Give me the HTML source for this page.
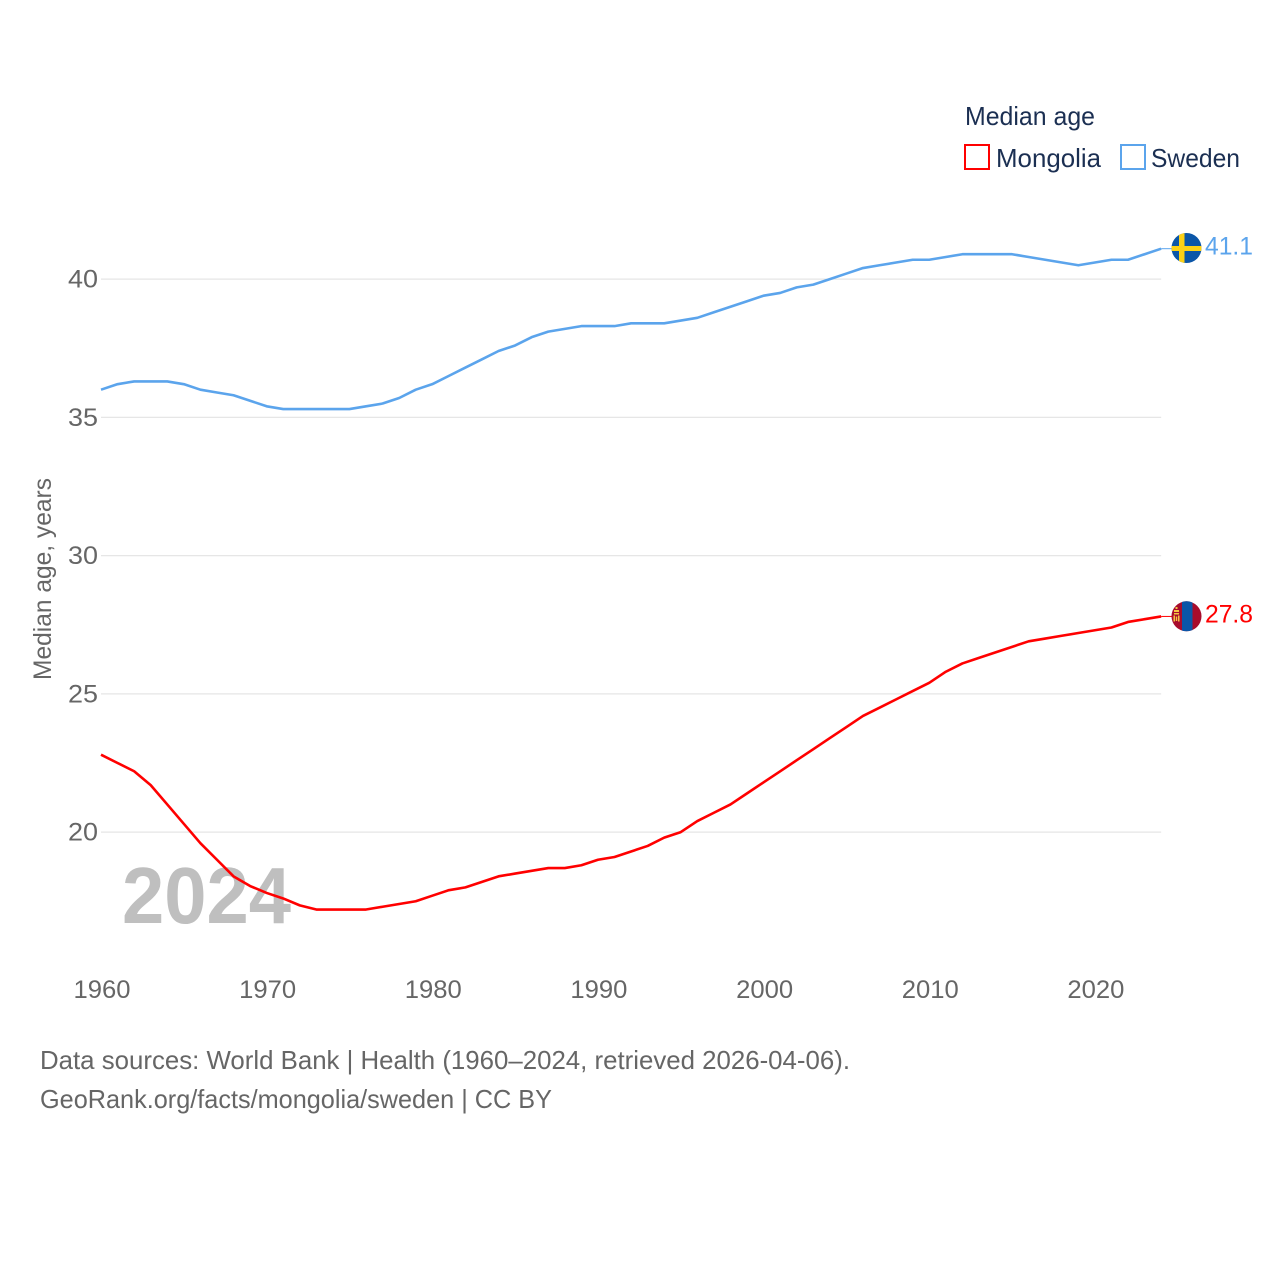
<!DOCTYPE html>
<html lang="en">
<head>
<meta charset="utf-8">
<title>Median age: Mongolia and Sweden</title>
<style>
html,body{margin:0;padding:0;background:#fff;}
svg{display:block;}
text{font-family:"Liberation Sans",sans-serif;}
</style>
</head>
<body>
<svg id="chart" width="1280" height="1280" viewBox="0 0 1280 1280" xmlns="http://www.w3.org/2000/svg">
  <defs>
    <clipPath id="clip-se"><circle cx="1186.5" cy="248" r="15"/></clipPath>
    <clipPath id="clip-mn"><circle cx="1186.5" cy="616.3" r="15"/></clipPath>
  </defs>
  <rect x="0" y="0" width="1280" height="1280" fill="#ffffff"/>

  <text x="965" y="125" font-size="26" fill="#1b2f52" textLength="130" lengthAdjust="spacingAndGlyphs">Median age</text>
  <rect x="965" y="145" width="24" height="24" fill="none" stroke="#ff0000" stroke-width="2"/>
  <text x="996" y="167" font-size="26" fill="#1b2f52" textLength="105" lengthAdjust="spacingAndGlyphs">Mongolia</text>
  <rect x="1121" y="145" width="24" height="24" fill="none" stroke="#5ba4ec" stroke-width="2"/>
  <text x="1151" y="167" font-size="26" fill="#1b2f52" textLength="89" lengthAdjust="spacingAndGlyphs">Sweden</text>

  <text transform="translate(51,680) rotate(-90)" font-size="25" fill="#666666" textLength="202" lengthAdjust="spacingAndGlyphs">Median age, years</text>

  <g id="grid"></g>
  <g id="yticks"></g>
  <g id="xticks"></g>

  <text x="122" y="923" font-size="80" font-weight="bold" fill="#bfbfbf" textLength="169" lengthAdjust="spacingAndGlyphs">2024</text>

  <g id="series"></g>

  <g clip-path="url(#clip-se)">
    <rect x="1171" y="233" width="31" height="30" fill="#0b56a8"/>
    <rect x="1179" y="233" width="5.5" height="30" fill="#fcd116"/>
    <rect x="1171" y="246" width="31" height="5" fill="#fcd116"/>
  </g>
  <g clip-path="url(#clip-mn)">
    <rect x="1171" y="601" width="31" height="31" fill="#a80c2c"/>
    <rect x="1182" y="601" width="10.5" height="31" fill="#0b56a8"/>
    <rect x="1175.5" y="607" width="2" height="2" fill="#f5c542"/>
    <rect x="1174" y="610" width="5" height="2" fill="#f5c542"/>
    <rect x="1174" y="613" width="5" height="1.5" fill="#f5c542"/>
    <rect x="1173.5" y="615.5" width="1.5" height="6" fill="#f5c542"/>
    <rect x="1178" y="615.5" width="1.5" height="6" fill="#f5c542"/>
    <rect x="1175.8" y="616.5" width="1.4" height="4.5" fill="#f5c542"/>
  </g>

  <text x="1205" y="254.5" font-size="25" fill="#5ba4ec" textLength="48" lengthAdjust="spacingAndGlyphs">41.1</text>
  <text x="1205" y="622.5" font-size="25" fill="#ff0000" textLength="48" lengthAdjust="spacingAndGlyphs">27.8</text>

  <text x="40" y="1069" font-size="26" fill="#666666" textLength="810" lengthAdjust="spacingAndGlyphs">Data sources: World Bank | Health (1960–2024, retrieved 2026-04-06).</text>
  <text x="40" y="1108" font-size="26" fill="#666666" textLength="512" lengthAdjust="spacingAndGlyphs">GeoRank.org/facts/mongolia/sweden | CC BY</text>
</svg>
<script>
const startYear = 1960;
const mongolia = [22.8,22.5,22.2,21.7,21.0,20.3,19.6,19.0,18.4,18.05,17.8,17.6,17.35,17.2,17.2,17.2,17.2,17.3,17.4,17.5,17.7,17.9,18.0,18.2,18.4,18.5,18.6,18.7,18.7,18.8,19.0,19.1,19.3,19.5,19.8,20.0,20.4,20.7,21.0,21.4,21.8,22.2,22.6,23.0,23.4,23.8,24.2,24.5,24.8,25.1,25.4,25.8,26.1,26.3,26.5,26.7,26.9,27.0,27.1,27.2,27.3,27.4,27.6,27.7,27.8];
const sweden = [36.0,36.2,36.3,36.3,36.3,36.2,36.0,35.9,35.8,35.6,35.4,35.3,35.3,35.3,35.3,35.3,35.4,35.5,35.7,36.0,36.2,36.5,36.8,37.1,37.4,37.6,37.9,38.1,38.2,38.3,38.3,38.3,38.4,38.4,38.4,38.5,38.6,38.8,39.0,39.2,39.4,39.5,39.7,39.8,40.0,40.2,40.4,40.5,40.6,40.7,40.7,40.8,40.9,40.9,40.9,40.9,40.8,40.7,40.6,40.5,40.6,40.7,40.7,40.9,41.1];
const yTickValues = [20,25,30,35,40];
const xTickValues = [1960,1970,1980,1990,2000,2010,2020];

const SVGNS = 'http://www.w3.org/2000/svg';
function xScale(year){ return 101 + (year - 1960) * 16.565; }
function yScale(v){ return 832.1 - (v - 20) * 27.65; }

const gridGroup = document.getElementById('grid');
const yTickGroup = document.getElementById('yticks');
const xTickGroup = document.getElementById('xticks');
const seriesGroup = document.getElementById('series');

yTickValues.forEach(function(v){
  const line = document.createElementNS(SVGNS,'line');
  
  
  line.setAttribute('x1', xScale(1960));
  line.setAttribute('x2', xScale(2024));
  line.setAttribute('y1', yScale(v));
  line.setAttribute('y2', yScale(v));
  line.setAttribute('stroke', '#e6e6e6');
  line.setAttribute('stroke-width', '1.3');
  gridGroup.appendChild(line);

  const label = document.createElementNS(SVGNS,'text');
  
  
  label.setAttribute('x', 68);
  label.setAttribute('y', yScale(v) + 8.4);
  label.setAttribute('font-size', '25');
  label.setAttribute('fill', '#666666');
  label.setAttribute('textLength', '30');
  label.setAttribute('lengthAdjust', 'spacingAndGlyphs');
  label.textContent = v;
  yTickGroup.appendChild(label);
});

xTickValues.forEach(function(year){
  const label = document.createElementNS(SVGNS,'text');
  
  
  label.setAttribute('x', xScale(year) - 27.5);
  label.setAttribute('y', 998);
  label.setAttribute('font-size', '25');
  label.setAttribute('fill', '#666666');
  label.setAttribute('textLength', '57');
  label.setAttribute('lengthAdjust', 'spacingAndGlyphs');
  label.textContent = year;
  xTickGroup.appendChild(label);
});

function pathFor(values){
  return values.map(function(v,i){
    return (i === 0 ? 'M' : 'L') + xScale(startYear + i).toFixed(2) + ' ' + yScale(v).toFixed(2);
  }).join(' ');
}

const swedenLine = document.createElementNS(SVGNS,'path');


swedenLine.setAttribute('d', pathFor(sweden));
swedenLine.setAttribute('fill', 'none');
swedenLine.setAttribute('stroke', '#5ba4ec');
swedenLine.setAttribute('stroke-width', '2.6');
swedenLine.setAttribute('stroke-linejoin', 'round');
seriesGroup.appendChild(swedenLine);

const mongoliaLine = document.createElementNS(SVGNS,'path');


mongoliaLine.setAttribute('d', pathFor(mongolia));
mongoliaLine.setAttribute('fill', 'none');
mongoliaLine.setAttribute('stroke', '#ff0000');
mongoliaLine.setAttribute('stroke-width', '2.6');
mongoliaLine.setAttribute('stroke-linejoin', 'round');
seriesGroup.appendChild(mongoliaLine);

const swedenLeader = document.createElementNS(SVGNS,'line');


swedenLeader.setAttribute('x1', xScale(2024));
swedenLeader.setAttribute('x2', 1172);
swedenLeader.setAttribute('y1', yScale(sweden[sweden.length - 1]));
swedenLeader.setAttribute('y2', yScale(sweden[sweden.length - 1]));
swedenLeader.setAttribute('stroke', '#5ba4ec');
swedenLeader.setAttribute('stroke-width', '1');
seriesGroup.appendChild(swedenLeader);

const mongoliaLeader = document.createElementNS(SVGNS,'line');


mongoliaLeader.setAttribute('x1', xScale(2024));
mongoliaLeader.setAttribute('x2', 1172);
mongoliaLeader.setAttribute('y1', yScale(mongolia[mongolia.length - 1]));
mongoliaLeader.setAttribute('y2', yScale(mongolia[mongolia.length - 1]));
mongoliaLeader.setAttribute('stroke', '#ff0000');
mongoliaLeader.setAttribute('stroke-width', '1');
seriesGroup.appendChild(mongoliaLeader);
</script>
</body>
</html>
